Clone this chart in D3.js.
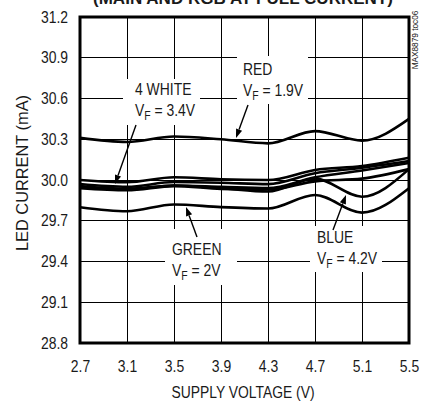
<!DOCTYPE html>
<html><head><meta charset="utf-8">
<script src="https://cdn.jsdelivr.net/npm/d3@7/dist/d3.min.js"></script>
<style>
html,body{margin:0;padding:0;background:#fff;}
text{font-family:"Liberation Sans",Arial,sans-serif;fill:#1a1a1a;}
</style></head><body>
<svg id="c" width="426" height="405"></svg>
<script>
const voltages = [2.7, 3.1, 3.5, 3.9, 4.3, 4.7, 5.1, 5.5];
const xTicks = [2.7, 3.1, 3.5, 3.9, 4.3, 4.7, 5.1, 5.5];
const yTicks = [28.8, 29.1, 29.4, 29.7, 30.0, 30.3, 30.6, 30.9, 31.2];
const red    = [30.31, 30.28, 30.32, 30.30, 30.27, 30.36, 30.29, 30.45];
const white1 = [30.00, 29.983, 30.02, 30.005, 30.00, 30.074, 30.103, 30.164];
const white2 = [29.97, 29.95, 29.985, 29.98, 29.97, 30.05, 30.09, 30.14];
const white3 = [29.95, 29.93, 29.96, 29.95, 29.94, 30.02, 30.07, 30.125];
const white4 = [29.94, 29.925, 29.955, 29.935, 29.93, 29.99, 30.01, 30.08];
const blue   = [29.955, 29.935, 29.96, 29.94, 29.915, 30.01, 29.877, 30.08];
const green  = [29.80, 29.77, 29.82, 29.80, 29.79, 29.89, 29.76, 29.94];
const series = [red, white1, white2, white3, white4, blue, green];

const L = 80, R = 409, T = 17, B = 343;
const SX = 0.87;
const svg = d3.select("#c");
const x = d3.scaleLinear().domain([2.7, 5.5]).range([L, R]);
const y = d3.scaleLinear().domain([28.8, 31.2]).range([B, T]);

function txt(xp, yp, s, size, anchor, extra) {
  const t = svg.append("text")
    .attr("transform", `translate(${xp},${yp})${extra || ""} scale(${SX},1)`)
    .attr("text-anchor", anchor || "start").style("font-size", size + "px");
  if (s !== null) t.text(s);
  return t;
}

// title (cut off at top, as in the reference)
txt(243, 4, "(MAIN AND RGB AT FULL CURRENT)", 17, "middle").style("font-weight", "bold")
  .attr("transform", "translate(243,4)").attr("textLength", 300).attr("lengthAdjust", "spacingAndGlyphs");

// grid
const g = svg.append("g").attr("shape-rendering", "crispEdges");
g.selectAll("line.v").data(xTicks.slice(1, -1)).join("line")
  .attr("x1", d => x(d)).attr("x2", d => x(d)).attr("y1", T).attr("y2", B)
  .attr("stroke", "#000").attr("stroke-width", 1);
g.selectAll("line.h").data(yTicks.slice(1, -1)).join("line")
  .attr("x1", L).attr("x2", R).attr("y1", d => y(d)).attr("y2", d => y(d))
  .attr("stroke", "#000").attr("stroke-width", 1);

// label boxes (white, hide grid)
const boxes = [[237, 56, 71, 48], [123, 79, 77, 46], [165, 229, 72, 56], [310, 226, 72, 46]];
svg.selectAll("rect.box").data(boxes).join("rect")
  .attr("x", d => d[0]).attr("y", d => d[1]).attr("width", d => d[2]).attr("height", d => d[3])
  .attr("fill", "#fff");

// curves
const line = d3.line().x((d, i) => x(voltages[i])).y(d => y(d)).curve(d3.curveMonotoneX);
svg.selectAll("path.s").data(series).join("path")
  .attr("d", d => line(d)).attr("fill", "none").attr("stroke", "#000")
  .attr("stroke-width", 2.6).attr("stroke-linejoin", "round");

// frame
svg.append("rect").attr("x", L).attr("y", T).attr("width", R - L).attr("height", B - T)
  .attr("fill", "none").attr("stroke", "#000").attr("stroke-width", 3);

// axes
const yAxis = d3.axisLeft(y).tickValues(yTicks).tickSize(0).tickPadding(12).tickFormat(d3.format(".1f"));
const ya = svg.append("g").attr("transform", `translate(${L},0)`).call(yAxis);
const xAxis = d3.axisBottom(x).tickValues(xTicks).tickSize(0).tickPadding(18).tickFormat(d3.format(".1f"));
const xa = svg.append("g").attr("transform", `translate(0,${B})`).call(xAxis);
[ya, xa].forEach(a => {
  a.select(".domain").remove();
  a.selectAll("text").style("font-size", "16px").attr("font-family", null).attr("fill", "#1a1a1a");
});
ya.selectAll("text").attr("x", null).attr("transform", `translate(-12,0) scale(${SX},1)`);
xa.selectAll("text").attr("transform", `scale(${SX},1)`);

svg.append("text").attr("x", 243).attr("y", 398).attr("text-anchor", "middle")
  .style("font-size", "16px").attr("textLength", 143).attr("lengthAdjust", "spacingAndGlyphs")
  .text("SUPPLY VOLTAGE (V)");
svg.append("text").attr("transform", "translate(28,173) rotate(-90)").attr("text-anchor", "middle")
  .style("font-size", "16px").attr("textLength", 156).attr("lengthAdjust", "spacingAndGlyphs")
  .text("LED CURRENT (mA)");
txt(418, 40, "MAX8879 toc06", 9.5, "middle", " rotate(-90)");

// annotations
function label(xp, yp, l1, sub, rest) {
  txt(xp, yp, l1, 16, "start");
  const t = txt(xp, yp + 21, null, 16, "start");
  t.append("tspan").text("V");
  t.append("tspan").attr("dy", 4).style("font-size", "12px").text(sub);
  t.append("tspan").attr("dy", -4).text(rest);
}
label(243, 75, "RED", "F", " = 1.9V");
label(135, 95, "4 WHITE", "F", " = 3.4V");
label(172, 255, "GREEN", "F", " = 2V");
label(317, 243, "BLUE", "F", " = 4.2V");

// arrows
const arrows = [[136, 125, 115, 184], [248, 105, 236, 138], [197, 237, 186, 207], [333, 230, 346, 195]];
arrows.forEach(([x1, y1, x2, y2]) => {
  const a = Math.atan2(y2 - y1, x2 - x1), len = 9, w = 3.2;
  const bx = x2 - len * Math.cos(a), by = y2 - len * Math.sin(a);
  svg.append("line").attr("x1", x1).attr("y1", y1).attr("x2", bx).attr("y2", by)
    .attr("stroke", "#000").attr("stroke-width", 1.4);
  const p = [[x2, y2], [bx + w * Math.sin(a), by - w * Math.cos(a)], [bx - w * Math.sin(a), by + w * Math.cos(a)]];
  svg.append("polygon").attr("points", p.map(q => q.join(",")).join(" ")).attr("fill", "#000");
});
</script></body></html>
